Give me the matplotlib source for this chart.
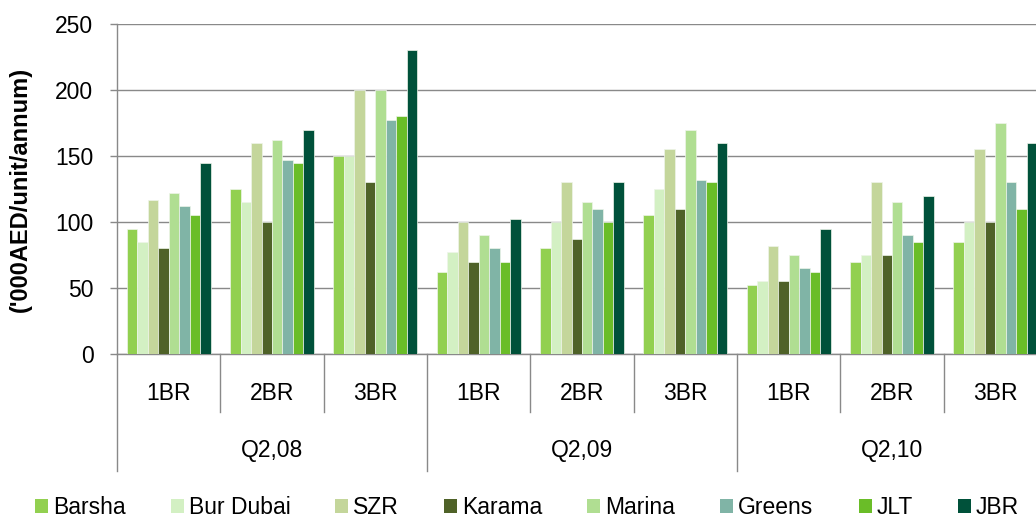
import matplotlib
matplotlib.use("Agg")
import matplotlib.pyplot as plt
import numpy as np
from matplotlib.patches import Patch

plt.rcParams['font.family'] = ['Liberation Sans', 'DejaVu Sans']

quarters = ["Q2,08", "Q2,09", "Q2,10"]
unit_types = ["1BR", "2BR", "3BR"]
series_names = ["Barsha", "Bur Dubai", "SZR", "Karama", "Marina", "Greens", "JLT", "JBR"]
series_colors = ["#92D050", "#D3F0C3", "#C4D69B", "#4F6228", "#B0DE92", "#80B4A6", "#6ABD28", "#00513A"]

barsha    = [95, 125, 150, 62, 80, 105, 52, 70, 85]
bur_dubai = [85, 115, 150, 77, 100, 125, 55, 75, 100]
szr       = [117, 160, 200, 100, 130, 155, 82, 130, 155]
karama    = [80, 100, 130, 70, 87, 110, 55, 75, 100]
marina    = [122, 162, 200, 90, 115, 170, 75, 115, 175]
greens    = [112, 147, 177, 80, 110, 132, 65, 90, 130]
jlt       = [105, 145, 180, 70, 100, 130, 62, 85, 110]
jbr       = [145, 170, 230, 102, 130, 160, 95, 120, 160]
series_values = [barsha, bur_dubai, szr, karama, marina, greens, jlt, jbr]

W, H = 1036, 519
FS = 16.5
fig = plt.figure(figsize=(W / 100, H / 100), dpi=100)
ax_left, ax_right, ax_top, ax_bot = 117, 1047, 24, 354
ax = fig.add_axes([ax_left / W, 1 - ax_bot / H, (ax_right - ax_left) / W, (ax_bot - ax_top) / H])

ncat = len(quarters) * len(unit_types)
x = np.arange(ncat)
bw = 0.1016
n = len(series_names)
for i, (name, vals, col) in enumerate(zip(series_names, series_values, series_colors)):
    offs = (i - (n - 1) / 2) * bw
    ax.bar(x + offs, vals, width=bw, color=col, edgecolor="#EEF5EA", linewidth=0.5, zorder=3)

ax.set_xlim(-0.5, ncat - 0.5)
ax.set_ylim(0, 250)
ax.set_yticks(np.arange(0, 251, 50))
ax.yaxis.grid(True, color="#898989", linewidth=1.0, zorder=0)
ax.set_axisbelow(True)
for s in ["top", "right"]:
    ax.spines[s].set_visible(False)
for s in ["left", "bottom"]:
    ax.spines[s].set_color("#898989")
    ax.spines[s].set_linewidth(1.0)
ax.tick_params(axis="y", colors="#898989", length=5, width=1.0, labelcolor="black", labelsize=FS, pad=12)
ax.set_xticks([])

ax.set_ylabel("('000AED/unit/annum)", fontsize=17, fontweight="bold")
ax.yaxis.set_label_coords((32 - ax_left) / (ax_right - ax_left), 0.5)

axh = ax_bot - ax_top
trans = ax.get_xaxis_transform()
for b in range(ncat + 1):
    if b % 3 == 0:
        depth = -(471 - ax_bot) / axh
    else:
        depth = -(412 - ax_bot) / axh
    ax.plot([b - 0.5, b - 0.5], [0, depth], transform=trans, color="#898989", lw=1.0, clip_on=False)

for k in range(ncat):
    ax.text(k, -(393 - ax_bot) / axh, unit_types[k % 3], transform=trans, ha="center", va="center", fontsize=FS)
for q, name in enumerate(quarters):
    ax.text(q * 3 + 1, -(451 - ax_bot) / axh, name, transform=trans, ha="center", va="center", fontsize=FS)

handles = [Patch(facecolor=c, edgecolor="none", label=nm) for nm, c in zip(series_names, series_colors)]
em = FS * 100 / 72
fig.legend(handles=handles, loc="center left", bbox_to_anchor=(35 / W, 1 - 508 / H), ncol=8, frameon=False,
           fontsize=FS, handlelength=13 / em, handleheight=13 / em, handletextpad=5 / em,
           columnspacing=45 / em, borderaxespad=0, borderpad=0)

fig.savefig("out.png", dpi=100)
